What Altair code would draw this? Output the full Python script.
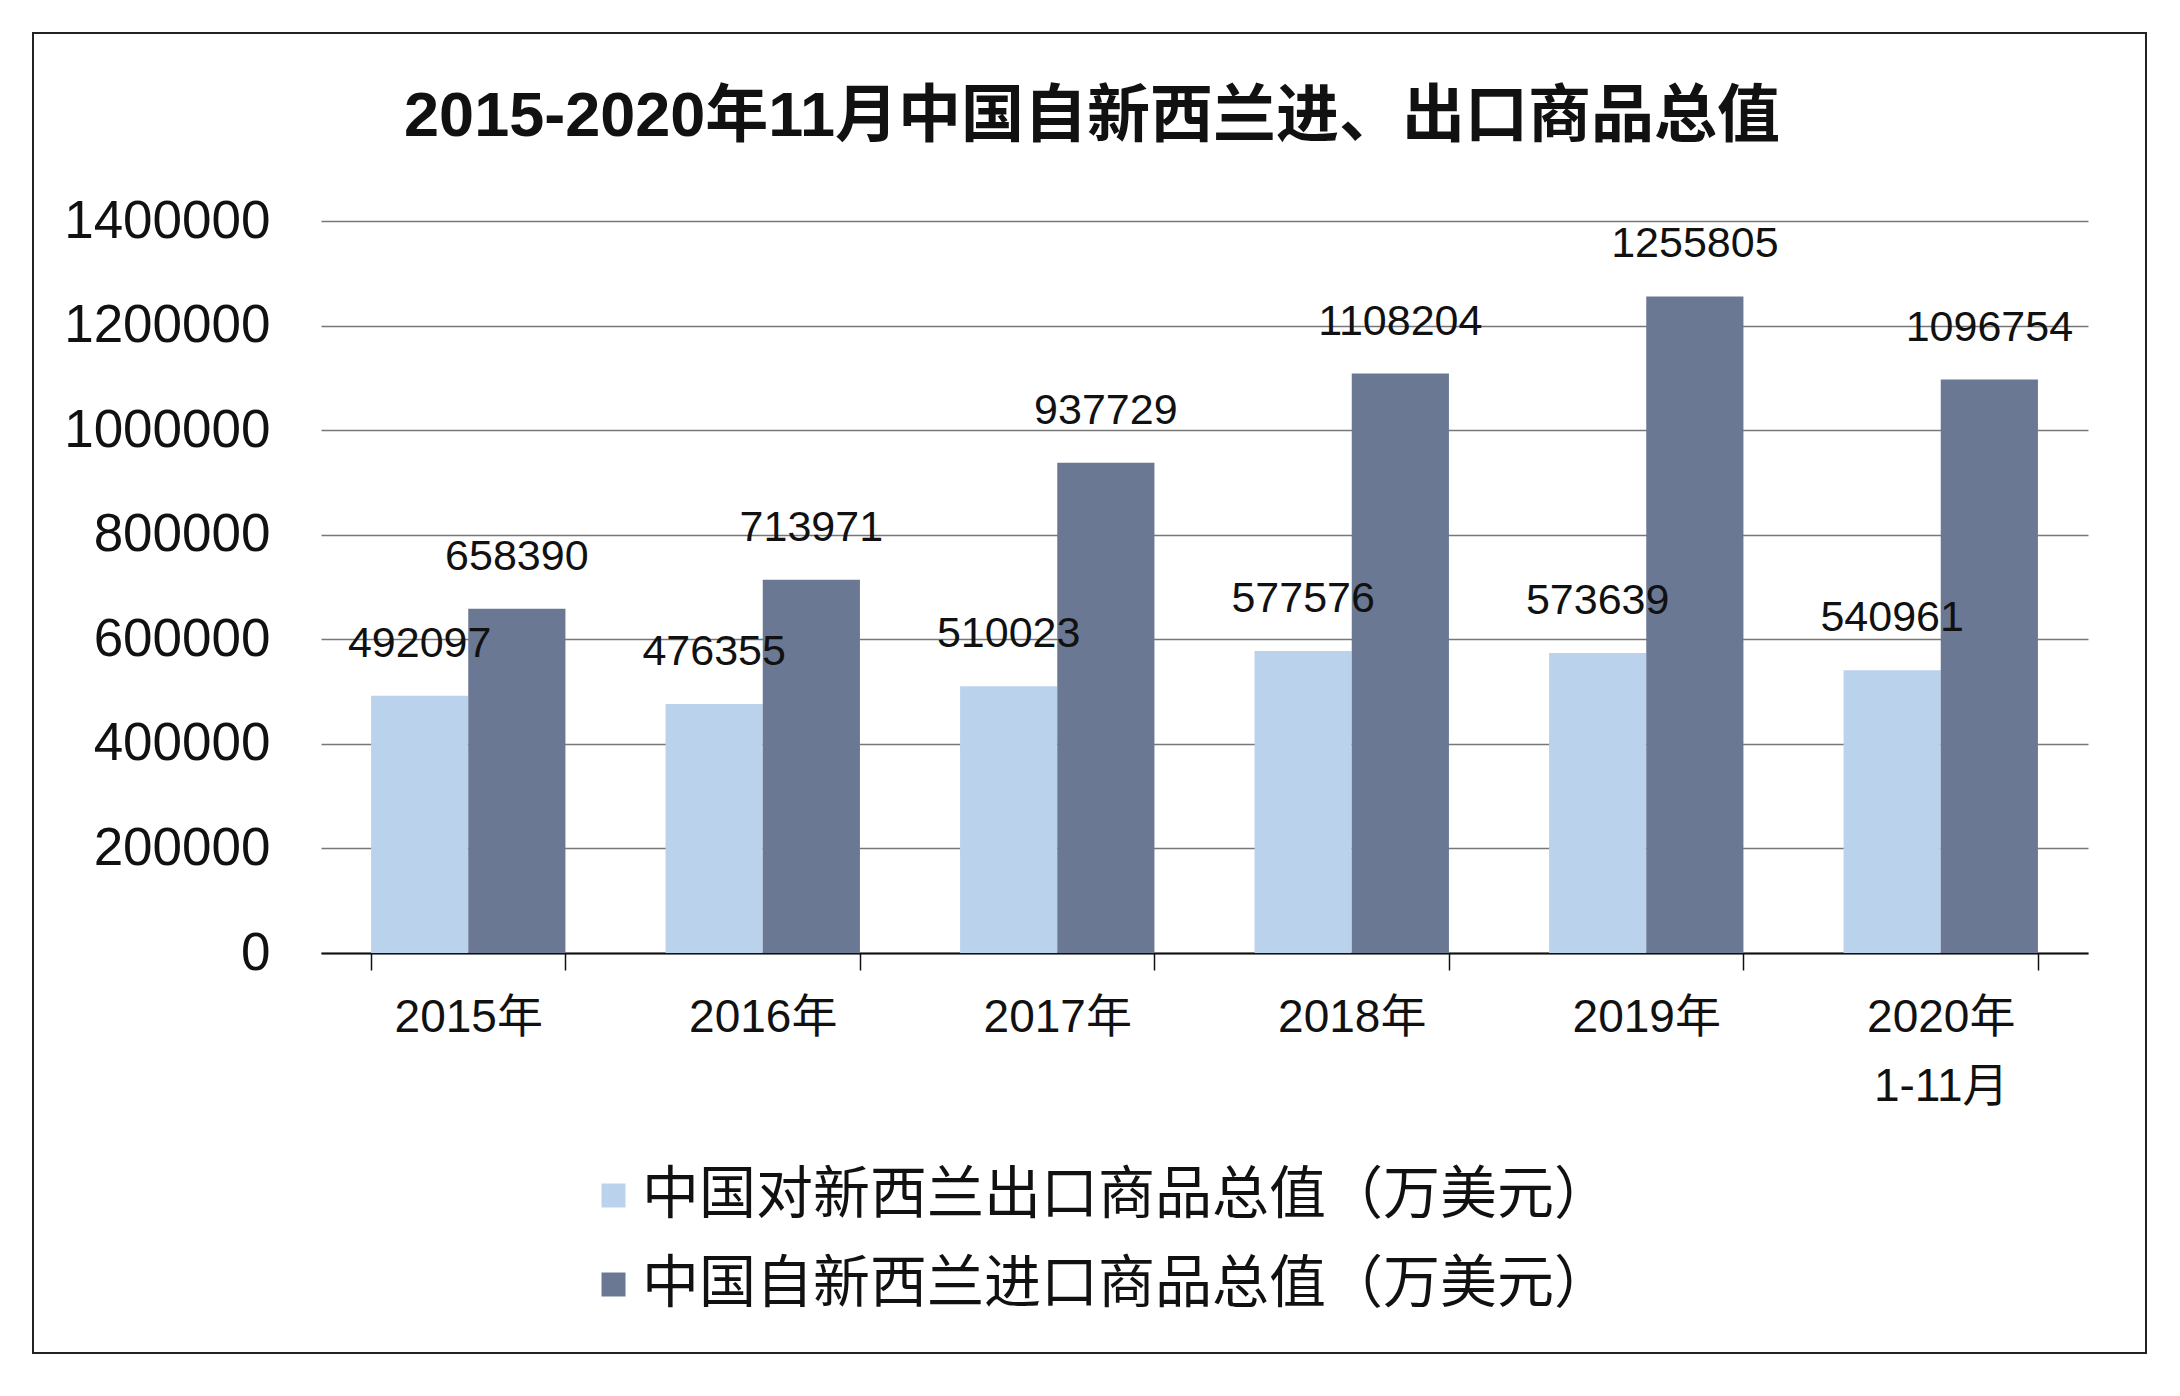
import altair as alt
import pandas as pd

categories = ["2015年", "2016年", "2017年", "2018年", "2019年", "2020年\n1-11月"]
export_values = [492097, 476355, 510023, 577576, 573639, 540961]
import_values = [658390, 713971, 937729, 1108204, 1255805, 1096754]
series_names = ["中国对新西兰出口商品总值（万美元）", "中国自新西兰进口商品总值（万美元）"]
series_colors = ["#BBD2EC", "#6A7894"]
y_ticks = [0, 200000, 400000, 600000, 800000, 1000000, 1200000, 1400000]
title_text = "2015-2020年11月中国自新西兰进、出口商品总值"

rows = []
for c, e, i in zip(categories, export_values, import_values):
    rows.append({"year": c, "series": series_names[0], "value": e})
    rows.append({"year": c, "series": series_names[1], "value": i})
df = pd.DataFrame(rows)

NUM_FONT = "Liberation Sans, Noto Sans CJK SC"
CJK_FONT = "Noto Sans CJK SC"

x_enc = alt.X(
    "year:N",
    sort=categories,
    scale=alt.Scale(paddingInner=0.34, paddingOuter=0.17),
    axis=alt.Axis(
        title=None,
        labelAngle=0,
        labelExpr="split(datum.label, '\\n')",
        labelFont=NUM_FONT,
        labelFontSize=46,
        labelColor="#111111",
        labelLineHeight=69,
        labelPadding=25,
        labelBaseline="top",
        tickBand="extent",
        tickSize=17,
        tickColor="#111111",
        tickWidth=1.5,
        domainColor="#111111",
        domainWidth=2,
        grid=False,
    ),
)
xoff_enc = alt.XOffset(
    "series:N", sort=series_names, scale=alt.Scale(paddingInner=0, paddingOuter=0)
)
y_enc = alt.Y(
    "value:Q",
    scale=alt.Scale(domain=[0, 1400000], nice=False),
    axis=alt.Axis(
        title=None,
        values=y_ticks,
        format="d",
        labelFont=NUM_FONT,
        labelFontSize=53,
        labelColor="#111111",
        labelPadding=51,
        labelLimit=1000,
        ticks=False,
        domain=False,
        grid=True,
        gridColor="#777777",
        gridWidth=1.5,
    ),
)
color_enc = alt.Color(
    "series:N",
    sort=series_names,
    scale=alt.Scale(domain=series_names, range=series_colors),
    legend=alt.Legend(
        title=None,
        orient="none",
        legendX=264,
        legendY=946,
        direction="vertical",
        symbolType="square",
        symbolSize=576,
        symbolStrokeWidth=0,
        labelFont=CJK_FONT,
        labelFontSize=57,
        labelColor="#111111",
        labelOffset=0,
        labelLimit=2000,
        rowPadding=31,
        padding=0,
    ),
)

bars = alt.Chart(df).mark_bar().encode(
    x=x_enc, xOffset=xoff_enc, y=y_enc, color=color_enc
)

labels = alt.Chart(df).mark_text(
    font=NUM_FONT, fontSize=43, baseline="middle", align="center", dy=-52, color="#111111"
).encode(
    x=alt.X("year:N", sort=categories),
    xOffset=alt.XOffset("series:N", sort=series_names),
    y=alt.Y("value:Q"),
    text=alt.Text("value:Q", format="d"),
)

title = alt.Chart(pd.DataFrame({"t": [title_text]})).mark_text(
    font=NUM_FONT, fontSize=63, fontWeight="bold", baseline="middle", align="center", color="#111111"
).encode(text="t:N", x=alt.value(771), y=alt.value(-104))

border = alt.Chart(pd.DataFrame({"b": [0]})).mark_rect(
    fillOpacity=0, stroke="#222222", strokeWidth=2
).encode(x=alt.value(-288), x2=alt.value(1825), y=alt.value(-188), y2=alt.value(1132))

chart = alt.layer(border, bars, labels, title).properties(
    width=1767,
    height=732,
    autosize=alt.AutoSizeParams(type="none"),
    padding={"left": 313, "top": 213, "right": 84, "bottom": 420},
    background="white",
).configure_view(stroke=None)

chart.save("out.html", embed_options={"renderer": "svg", "actions": False})
